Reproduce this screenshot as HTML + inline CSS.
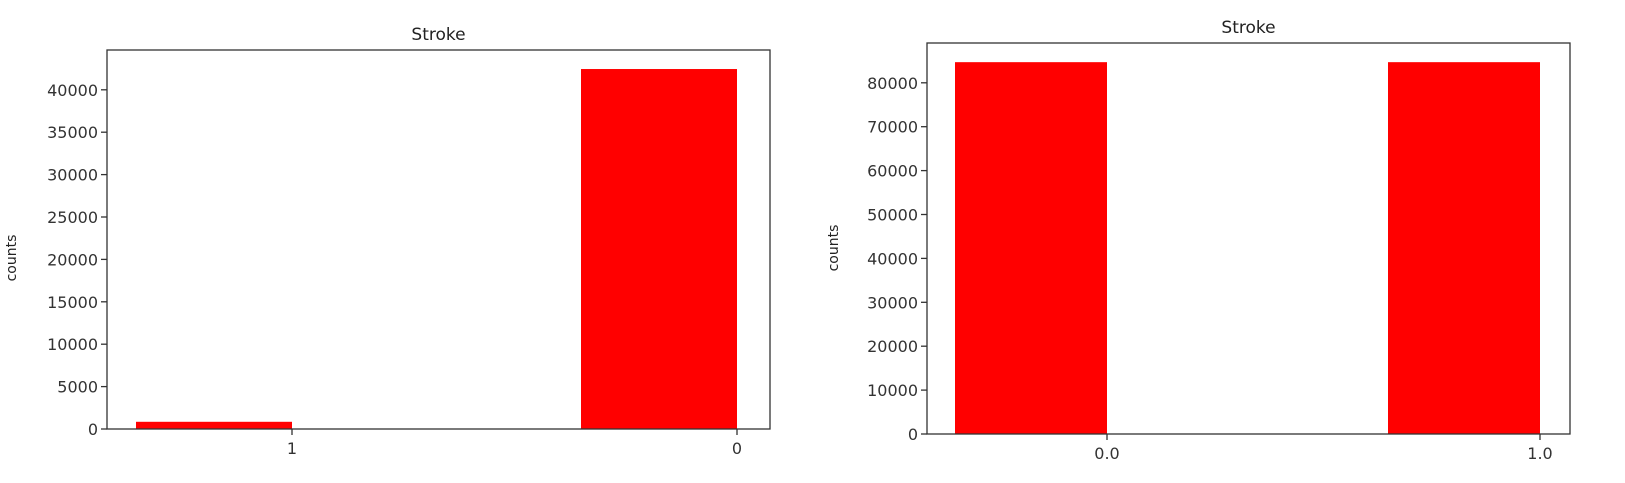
<!DOCTYPE html>
<html><head><meta charset="utf-8"><style>
html,body{margin:0;padding:0;background:#fff;}
svg{display:block;font-family:"DejaVu Sans","Liberation Sans",sans-serif;}
</style></head><body>
<svg id="s" width="1625" height="483" xmlns="http://www.w3.org/2000/svg"></svg>
<script>
const leftCategories = ["1", "0"];
const leftValues = [850, 42450];
const leftTicks = [0, 5000, 10000, 15000, 20000, 25000, 30000, 35000, 40000];
const rightCategories = ["0.0", "1.0"];
const rightValues = [84700, 84700];
const rightTicks = [0, 10000, 20000, 30000, 40000, 50000, 60000, 70000, 80000];

const NS = "http://www.w3.org/2000/svg";
const svg = document.getElementById('s');
function mk(tag, attrs, parent) {
  const e = document.createElementNS(NS, tag);
  for (const k in attrs) e.setAttribute(k, attrs[k]);
  (parent || svg).appendChild(e);
  return e;
}
function chart(cfg, cats, vals, ticks, prefix) {
  const g = mk('g', {});
  
  
  const y = v => cfg.y0 - (v / cfg.unit) * cfg.unitPx;
  // bars
  cats.forEach((c, i) => {
    const xr = cfg.catX[i];
    const r = mk('rect', {x: xr - cfg.barW, y: y(vals[i]), width: cfg.barW, height: cfg.y0 - y(vals[i]), fill: '#ff0000'}, g);
    
    
    mk('line', {x1: xr, x2: xr, y1: cfg.y0, y2: cfg.y0 + 6, stroke: '#333', 'stroke-width': 1.3}, g);
    const t = mk('text', {x: xr, y: cfg.y0 + 25, 'text-anchor': 'middle', 'font-size': 16, fill: '#333'}, g);
    t.textContent = c;
    
    
  });
  // y ticks
  ticks.forEach(v => {
    mk('line', {x1: cfg.x0 - 6, x2: cfg.x0, y1: y(v), y2: y(v), stroke: '#333', 'stroke-width': 1.3}, g);
    const t = mk('text', {x: cfg.x0 - 9, y: y(v) + 6, 'text-anchor': 'end', 'font-size': 16, fill: '#333'}, g);
    t.textContent = v;
    
    
  });
  // frame
  const f = mk('rect', {x: cfg.x0, y: cfg.top, width: cfg.x1 - cfg.x0, height: cfg.y0 - cfg.top, fill: 'none', stroke: '#333', 'stroke-width': 1.3}, g);
  
  
  const ti = mk('text', {x: (cfg.x0 + cfg.x1) / 2, y: cfg.top - 10, 'text-anchor': 'middle', 'font-size': 17, fill: '#222'}, g);
  ti.textContent = 'Stroke';
  
  
  const yl = mk('text', {x: 0, y: 0, 'text-anchor': 'middle', 'font-size': 14, fill: '#222', transform: 'translate(' + cfg.ylx + ',' + cfg.yly + ') rotate(-90)'}, g);
  yl.textContent = 'counts';
  
  
}
chart({x0: 107, x1: 770, top: 50, y0: 429, unit: 5000, unitPx: 42.4, catX: [292, 737], barW: 156, ylx: 16, yly: 258}, leftCategories, leftValues, leftTicks, 'left');
chart({x0: 927, x1: 1570, top: 43, y0: 434, unit: 10000, unitPx: 43.9, catX: [1107, 1540], barW: 152, ylx: 838, yly: 248}, rightCategories, rightValues, rightTicks, 'right');
</script>
</body></html>
